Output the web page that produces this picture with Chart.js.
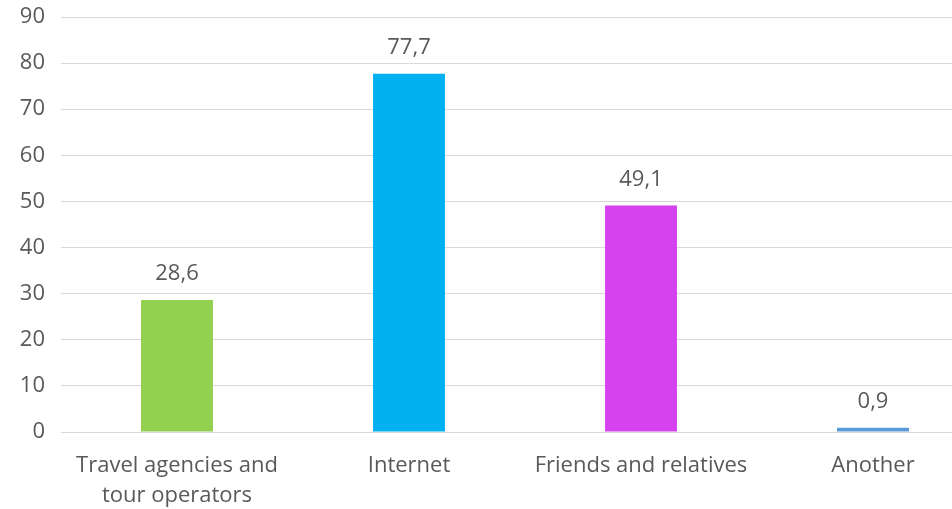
<!DOCTYPE html>
<html>
<head>
<meta charset="utf-8">
<script src="https://cdn.jsdelivr.net/npm/chart.js@4"></script>
<style>
  html, body { margin: 0; padding: 0; background: #fff; overflow: hidden; }
  /* the plot runs past the right edge of the picture, as in the original */
  #wrap { width: 952px; height: 509px; overflow: hidden; }
  #chart { display: block; }
</style>
</head>
<body>
<div id="wrap"><canvas id="chart" width="989" height="509"></canvas></div>
<script>
const categories = [['Travel agencies and', 'tour operators'], 'Internet', 'Friends and relatives', 'Another'];
const values = [28.6, 77.7, 49.1, 0.9];
const barColors = ['#92D050', '#00B0F0', '#D641F0', '#5B9BD5'];
const yTicks = [0, 10, 20, 30, 40, 50, 60, 70, 80, 90];

const fontFamily = '"Open Sans", "Noto Sans", sans-serif';
const textColor = '#595959';

// writes the values above each bar, with a comma as decimal mark
const valueLabels = {
  id: 'valueLabels',
  afterDatasetsDraw(chart) {
    const ctx = chart.ctx;
    const meta = chart.getDatasetMeta(0);
    ctx.save();
    ctx.font = '22px ' + fontFamily;
    ctx.fillStyle = textColor;
    ctx.textAlign = 'center';
    ctx.textBaseline = 'alphabetic';
    meta.data.forEach((bar, i) => {
      ctx.fillText(String(values[i]).replace('.', ','), bar.x, bar.y - 20);
    });
    ctx.restore();
  }
};

new Chart(document.getElementById('chart'), {
  type: 'bar',
  data: {
    labels: categories,
    datasets: [{
      data: values,
      backgroundColor: barColors,
      borderWidth: 0,
      categoryPercentage: 1,
      barPercentage: 0.31
    }]
  },
  options: {
    responsive: false,
    animation: false,
    layout: { padding: { top: 17, right: 0, left: 0, bottom: 0 } },
    plugins: {
      legend: { display: false },
      tooltip: { enabled: false }
    },
    scales: {
      x: {
        grid: { display: false },
        border: { display: false },
        ticks: {
          color: textColor,
          font: { family: fontFamily, size: 22, lineHeight: 1.4 },
          padding: 10,
          maxRotation: 0,
          autoSkip: false
        },
        afterFit(scale) {
          scale.height = 77;
          scale.paddingLeft = 0;
          scale.paddingRight = 0;
        }
      },
      y: {
        min: 0,
        max: 90,
        afterBuildTicks(scale) { scale.ticks = yTicks.map(v => ({ value: v })); },
        grid: { color: '#d9d9d9', lineWidth: 1, drawTicks: false },
        border: { display: false },
        ticks: {
          color: textColor,
          font: { family: fontFamily, size: 22 },
          padding: 16
        },
        afterFit(scale) {
          scale.width = 61;
          scale.paddingTop = 0;
          scale.paddingBottom = 0;
        }
      }
    }
  },
  plugins: [valueLabels]
});
</script>
</body>
</html>
